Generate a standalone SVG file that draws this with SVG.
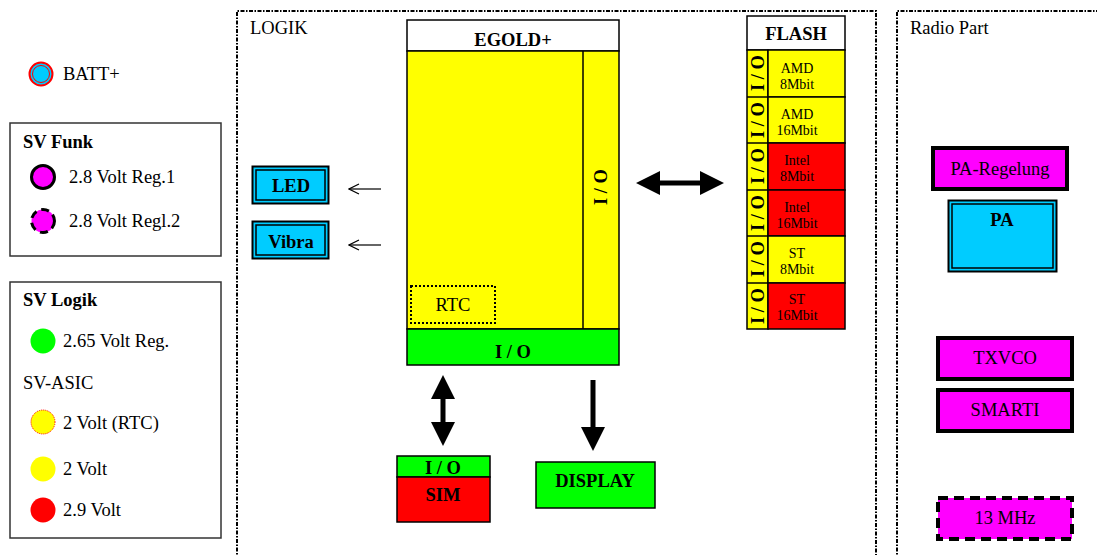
<svg xmlns="http://www.w3.org/2000/svg" width="1097" height="555" viewBox="0 0 1097 555">
<style>
text{font-family:"Liberation Serif","Times New Roman",serif;font-size:18.5px;fill:#000}
.b{font-weight:bold}
.m{text-anchor:middle}
.s{font-size:14px}
.box{stroke:#000;stroke-width:1.5}
.region{fill:none;stroke:#000;stroke-width:2;stroke-dasharray:4 1.5 1.5 1.5}
</style>
<defs>
<marker id="open" viewBox="0 0 12 12" refX="11" refY="6" markerWidth="12" markerHeight="12" markerUnits="userSpaceOnUse" orient="auto">
<path d="M1,1 L11,6 L1,11" fill="none" stroke="#000" stroke-width="1.2"/>
</marker>
</defs>
<rect width="1097" height="555" fill="#fff"/>

<g id="regions">
<path class="region" d="M237,560 V11 H876 V560"/>
<text x="250" y="34">LOGIK</text>
<path class="region" d="M897,560 V11 H1100"/>
<text x="910" y="34">Radio Part</text>
</g>

<g id="legend-batt">
<circle cx="41" cy="74" r="11.5" fill="#00ccff" stroke="#ff0000" stroke-width="2"/>
<circle cx="41" cy="74" r="8.5" fill="none" stroke="#ff0000" stroke-width="1"/>
<text x="63" y="80">BATT+</text>
</g>

<g id="legend-svfunk">
<rect x="10" y="123" width="211" height="133" fill="#fff" stroke="#333" stroke-width="1.5"/>
<text x="23" y="148" class="b">SV Funk</text>
<circle cx="43" cy="177" r="11.5" fill="#ff00ff" stroke="#000" stroke-width="3"/>
<text x="69" y="183">2.8 Volt Reg.1</text>
<circle cx="43" cy="221" r="11.5" fill="#ff00ff" stroke="#000" stroke-width="3" stroke-dasharray="8 5"/>
<text x="69" y="227">2.8 Volt Regl.2</text>
</g>

<g id="legend-svlogik">
<rect x="10" y="282" width="211" height="256" fill="#fff" stroke="#333" stroke-width="1.5"/>
<text x="23" y="306" class="b">SV Logik</text>
<circle cx="43" cy="341" r="12.5" fill="#00ff00"/>
<text x="63" y="347">2.65 Volt Reg.</text>
<text x="23" y="389">SV-ASIC</text>
<circle cx="43" cy="422" r="12" fill="#ffff00" stroke="#ff0000" stroke-width="1" stroke-dasharray="1 1"/>
<text x="63" y="429">2 Volt (RTC)</text>
<circle cx="43" cy="469" r="12.5" fill="#ffff00"/>
<text x="63" y="475">2 Volt</text>
<circle cx="43" cy="510" r="12.5" fill="#ff0000"/>
<text x="63" y="516">2.9 Volt</text>
</g>

<g id="led">
<rect x="252.5" y="166.5" width="76" height="37" fill="#00ccff" stroke="#000" stroke-width="2"/>
<rect x="256" y="170" width="69" height="30" fill="none" stroke="#000" stroke-width="1.5"/>
<text x="291" y="192" class="b m">LED</text>
</g>
<g id="vibra">
<rect x="252.5" y="221.5" width="76" height="37" fill="#00ccff" stroke="#000" stroke-width="2"/>
<rect x="256" y="225" width="69" height="30" fill="none" stroke="#000" stroke-width="1.5"/>
<text x="291" y="248" class="b m">Vibra</text>
</g>

<g id="egold">
<rect x="407" y="20" width="212" height="31" fill="#fff" class="box"/>
<text x="513" y="46" class="b m">EGOLD+</text>
<rect x="407" y="51" width="212" height="278" fill="#ffff00" class="box"/>
<line x1="583" y1="51" x2="583" y2="329" stroke="#000" stroke-width="1.5"/>
<text transform="translate(607,187) rotate(-90)" class="b m">I / O</text>
<rect x="411" y="286" width="84" height="37" fill="none" stroke="#000" stroke-width="2" stroke-dasharray="2 2"/>
<text x="453" y="311" class="m">RTC</text>
<rect x="407" y="329" width="212" height="36" fill="#00ff00" class="box"/>
<text x="513" y="358" class="b m">I / O</text>
</g>

<g id="flash">
<rect x="747" y="16" width="98" height="34" fill="#fff" class="box"/>
<text x="796" y="40" class="b m">FLASH</text>
<rect x="747" y="50" width="21" height="279" fill="#ffff00" class="box"/>
<rect x="768" y="50" width="77" height="47" fill="#ffff00" class="box"/>
<rect x="768" y="97" width="77" height="46" fill="#ffff00" class="box"/>
<rect x="768" y="143" width="77" height="47" fill="#ff0000" class="box"/>
<rect x="768" y="190" width="77" height="46" fill="#ff0000" class="box"/>
<rect x="768" y="236" width="77" height="47" fill="#ffff00" class="box"/>
<rect x="768" y="283" width="77" height="46" fill="#ff0000" class="box"/>
<line x1="747" y1="97" x2="768" y2="97" stroke="#000" stroke-width="1.5"/>
<line x1="747" y1="143" x2="768" y2="143" stroke="#000" stroke-width="1.5"/>
<line x1="747" y1="190" x2="768" y2="190" stroke="#000" stroke-width="1.5"/>
<line x1="747" y1="236" x2="768" y2="236" stroke="#000" stroke-width="1.5"/>
<line x1="747" y1="283" x2="768" y2="283" stroke="#000" stroke-width="1.5"/>
<text transform="translate(764,73) rotate(-90)" class="b m">I / O</text>
<text transform="translate(764,120) rotate(-90)" class="b m">I / O</text>
<text transform="translate(764,166) rotate(-90)" class="b m">I / O</text>
<text transform="translate(764,213) rotate(-90)" class="b m">I / O</text>
<text transform="translate(764,259) rotate(-90)" class="b m">I / O</text>
<text transform="translate(764,306) rotate(-90)" class="b m">I / O</text>
<text x="797" y="73" class="s m">AMD</text><text x="797" y="89" class="s m">8Mbit</text>
<text x="797" y="119" class="s m">AMD</text><text x="797" y="135" class="s m">16Mbit</text>
<text x="797" y="165" class="s m">Intel</text><text x="797" y="181" class="s m">8Mbit</text>
<text x="797" y="212" class="s m">Intel</text><text x="797" y="228" class="s m">16Mbit</text>
<text x="797" y="258" class="s m">ST</text><text x="797" y="274" class="s m">8Mbit</text>
<text x="797" y="304" class="s m">ST</text><text x="797" y="320" class="s m">16Mbit</text>
</g>

<g id="sim">
<rect x="397" y="456" width="93" height="21" fill="#00ff00" class="box"/>
<text x="443" y="474" class="b m">I / O</text>
<rect x="397" y="477" width="93" height="45" fill="#ff0000" class="box"/>
<text x="443" y="501" class="b m">SIM</text>
</g>

<g id="display">
<rect x="536" y="462" width="119" height="46" fill="#00ff00" class="box"/>
<text x="595" y="487" class="b m">DISPLAY</text>
</g>

<g id="pa-regelung">
<rect x="933" y="148" width="134" height="41" fill="#ff00ff" stroke="#000" stroke-width="4"/>
<text x="1000" y="175" class="m">PA-Regelung</text>
</g>
<g id="pa">
<rect x="948.5" y="200.5" width="108" height="71" fill="#00ccff" stroke="#000" stroke-width="2"/>
<rect x="952" y="204" width="101" height="64" fill="none" stroke="#000" stroke-width="1.5"/>
<text x="1002" y="226" class="b m">PA</text>
</g>
<g id="txvco">
<rect x="938" y="338" width="134" height="41" fill="#ff00ff" stroke="#000" stroke-width="4"/>
<text x="1005" y="364" class="m">TXVCO</text>
</g>
<g id="smarti">
<rect x="938" y="390" width="134" height="41" fill="#ff00ff" stroke="#000" stroke-width="4"/>
<text x="1005" y="416" class="m">SMARTI</text>
</g>
<g id="mhz13">
<rect x="938" y="498" width="134" height="41" fill="#ff00ff" stroke="#000" stroke-width="4" stroke-dasharray="10 6"/>
<text x="1005" y="524" class="m">13 MHz</text>
</g>

<g id="connectors">
<line x1="381" y1="189" x2="349" y2="189" stroke="#000" stroke-width="1.2" marker-end="url(#open)"/>
<line x1="381" y1="245" x2="349" y2="245" stroke="#000" stroke-width="1.2" marker-end="url(#open)"/>
<path d="M636,183 L660,171 L660,180.5 L700,180.5 L700,171 L724,183 L700,195 L700,185.5 L660,185.5 L660,195 Z" fill="#000"/>
<path d="M443,375 L455,399 L445.5,399 L445.5,422 L455,422 L443,446 L431,422 L440.5,422 L440.5,399 L431,399 Z" fill="#000"/>
<path d="M590.5,380 L595.5,380 L595.5,427 L605,427 L593,451 L581,427 L590.5,427 Z" fill="#000"/>
</g>
</svg>
